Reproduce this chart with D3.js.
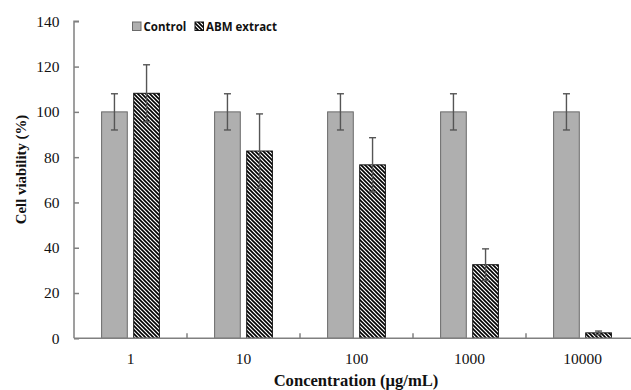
<!DOCTYPE html>
<html><head><meta charset="utf-8">
<script src="https://cdn.jsdelivr.net/npm/d3@7"></script>
<style>body{margin:0;background:#fff}</style>
</head><body>
<svg id="c" width="631" height="390"></svg>
<script>
const categories = ["1","10","100","1000","10000"];
const seriesNames = ["Control","ABM extract"];
const controlValues = [100,100,100,100,100];
const controlErrors = [8,8,8,8,8];
const abmValues = [108.2,82.7,76.6,32.5,2.4];
const abmErrors = [12.6,16.4,12,7,0.8];
const yTicks = [0,20,40,60,80,100,120,140];

const svg = d3.select("#c");
const L = 74, R = 639, T = 21.3, B = 338.3;
const x0 = d3.scaleBand().domain(categories).range([L,R]).padding(0);
const x1 = d3.scaleBand().domain(seriesNames).range([0,x0.bandwidth()]).paddingInner(0.2).paddingOuter(0.86);
const y = d3.scaleLinear().domain([0,140]).range([B,T]);

const defs = svg.append("defs");
const pat = defs.append("pattern").attr("id","hatch").attr("patternUnits","userSpaceOnUse")
  .attr("width",4).attr("height",4);
pat.append("rect").attr("width",4).attr("height",4).attr("fill","#fff");
pat.append("path").attr("d","M0,0 L4,4 M-1,3 L1,5 M3,-1 L5,1").attr("stroke","#000").attr("stroke-width",1.6);

const data = categories.map((c,i)=>[
  {cat:c, s:seriesNames[0], v:controlValues[i], e:controlErrors[i]},
  {cat:c, s:seriesNames[1], v:abmValues[i], e:abmErrors[i]}
]).flat();

const fillOf = s => s===seriesNames[0] ? "#afafaf" : "url(#hatch)";
const strokeOf = s => s===seriesNames[0] ? "#6a6a6a" : "#111";

svg.append("g").selectAll("rect").data(data).join("rect")
  .attr("x",d=>x0(d.cat)+x1(d.s)).attr("width",x1.bandwidth())
  .attr("y",d=>y(d.v)).attr("height",d=>y(0)-y(d.v))
  .attr("fill",d=>fillOf(d.s)).attr("stroke",d=>strokeOf(d.s)).attr("stroke-width",1);

// error bars
const eg = svg.append("g").attr("stroke","#555").attr("stroke-width",1.4).attr("fill","none");
data.forEach(d=>{
  const cx = x0(d.cat)+x1(d.s)+x1.bandwidth()/2;
  eg.append("line").attr("x1",cx).attr("x2",cx).attr("y1",y(d.v+d.e)).attr("y2",y(Math.max(0,d.v-d.e)));
  eg.append("line").attr("x1",cx-3.5).attr("x2",cx+3.5).attr("y1",y(d.v+d.e)).attr("y2",y(d.v+d.e));
  eg.append("line").attr("x1",cx-3.5).attr("x2",cx+3.5).attr("y1",y(d.v-d.e)).attr("y2",y(d.v-d.e));
});

// y axis
const yAxis = svg.append("g").attr("transform",`translate(${L},0)`)
  .call(d3.axisRight(y).tickValues(yTicks).tickSize(5).tickFormat(d3.format("d")));
yAxis.select(".domain").attr("stroke","#808080").attr("stroke-width",1.5).attr("d",`M5,${T}H0V${B}`);
yAxis.selectAll(".tick line").attr("stroke","#808080").attr("stroke-width",1.5);
yAxis.selectAll(".tick text").attr("x",-14.5).attr("text-anchor","end")
  .attr("font-family","'Liberation Serif','Times New Roman',serif").attr("font-size",15.5).attr("fill","#111");

// x axis
const xAxis = svg.append("g").attr("transform",`translate(0,${B})`)
  .call(d3.axisBottom(x0).tickSize(0).tickPadding(14.5));
xAxis.select(".domain").attr("stroke","#808080").attr("stroke-width",1.5).attr("d",`M${L},0H${R}`);
xAxis.selectAll(".tick text").attr("font-family","'Liberation Serif','Times New Roman',serif")
  .attr("font-size",15.5).attr("fill","#111");
const bounds = categories.slice(1).map(c=>x0(c));
svg.append("g").selectAll("line").data(bounds).join("line")
  .attr("x1",d=>d).attr("x2",d=>d).attr("y1",B).attr("y2",B-5)
  .attr("stroke","#808080").attr("stroke-width",1.5);

// axis titles
svg.append("text").attr("x",356).attr("y",385.7).attr("text-anchor","middle")
  .attr("font-family","'Liberation Serif','Times New Roman',serif").attr("font-weight","bold")
  .attr("font-size",16.6).attr("fill","#111").text("Concentration (μg/mL)");
svg.append("text").attr("transform","translate(26,169.5) rotate(-90)").attr("text-anchor","middle")
  .attr("font-family","'Liberation Serif','Times New Roman',serif").attr("font-weight","bold")
  .attr("font-size",14.8).attr("fill","#111").text("Cell viability (%)");

// legend
const leg = svg.append("g");
const legX = [132.5,195];
seriesNames.forEach((s,i)=>{
  leg.append("rect").attr("x",legX[i]).attr("y",22).attr("width",8.5).attr("height",8.5)
    .attr("fill",fillOf(s)).attr("stroke",strokeOf(s)).attr("stroke-width",1);
  leg.append("text").attr("x",legX[i]+11).attr("y",30.5)
    .attr("font-family","'Open Sans','Liberation Sans',sans-serif").attr("font-weight","bold")
    .attr("font-size",11.5).attr("fill","#111").text(s);
});
</script>
</body></html>
